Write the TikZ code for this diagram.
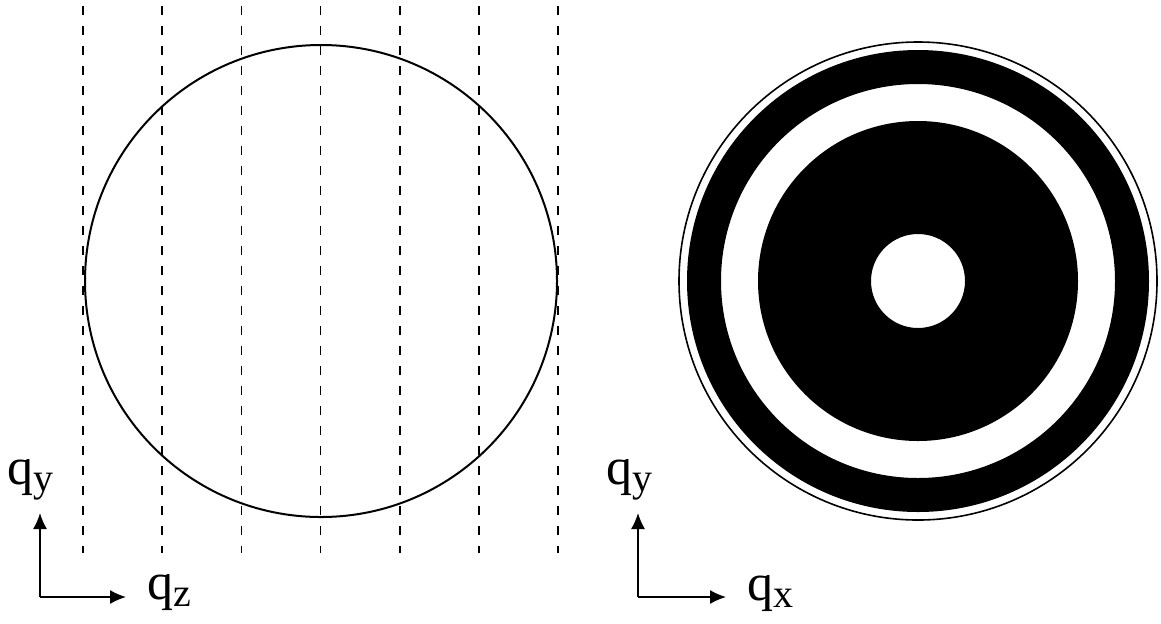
\documentclass[tikz,border=0pt]{standalone}
\usepackage{fontspec}
\setmainfont{Liberation Serif}
\usetikzlibrary{arrows.meta, positioning, calc}
\newcommand{\qlabel}[1]{q\raisebox{-3.5pt}{\fontsize{20}{22}\selectfont #1}}

\begin{document}
\begin{tikzpicture}[
    x=0.5pt, y=0.5pt,
    every node/.style={font=\fontsize{26}{28}\selectfont},
    lbl/.style={inner sep=0pt, anchor=base west},
    rim/.style={draw=black, line width=1pt},
    slice/.style={dashed, dash pattern=on 4.5pt off 5.5pt, line width=0.8pt},
    axis/.style={-{Latex[length=8pt, width=7pt]}, line width=0.75pt}
]

\useasboundingbox (0,0) rectangle (1161,-623);

% left panel
\coordinate (lc) at (321,-281);
\draw[rim] (lc) circle (236);
\foreach \i in {0,...,6}
    \draw[slice] ({83+79.2*\i},-6) -- ({83+79.2*\i},-553);

\coordinate (lo) at (40,-597);
\coordinate (ly) at (40,-513);
\coordinate (lz) at (126,-597);
\draw[axis] (lo) -- (ly);
\draw[axis] (lo) -- (lz);
\node[lbl] (lqy) at (7,-484) {\qlabel{y}};
\node[lbl] (lqz) at (147,-599) {\qlabel{z}};

% right panel
\coordinate (rc) at (918,-281);
\draw[line width=0.8pt] (rc) circle (239);
\fill[black, even odd rule] (rc) circle (231) circle (197);
\fill[black, even odd rule] (rc) circle (160) circle (47);

\coordinate (ro) at (638,-597);
\coordinate (ry) at (638,-513);
\coordinate (rx) at (726,-597);
\draw[axis] (ro) -- (ry);
\draw[axis] (ro) -- (rx);
\node[lbl] (rqy) at (606,-484) {\qlabel{y}};
\node[lbl] (rqx) at (747,-600) {\qlabel{x}};

\end{tikzpicture}
\end{document}
